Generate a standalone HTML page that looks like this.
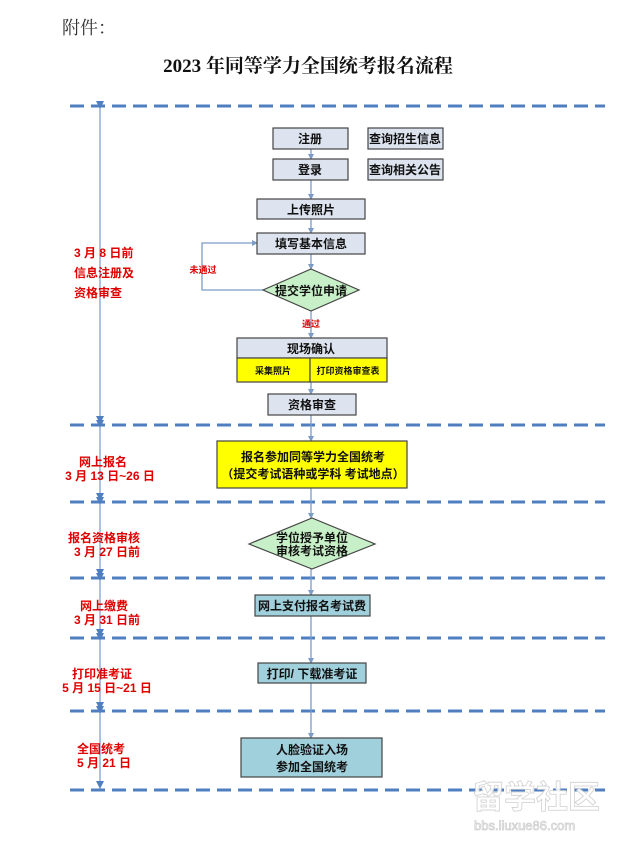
<!DOCTYPE html>
<html><head><meta charset="utf-8"><style>
html,body{margin:0;padding:0;background:#fff;}
svg{display:block;}
.b{font-family:"Liberation Sans","Noto Sans CJK SC",sans-serif;font-weight:bold;}
.r{fill:#e00000;}
</style></head><body>
<svg width="638" height="847" viewBox="0 0 638 847" xmlns="http://www.w3.org/2000/svg">
<defs>
<marker id="a" markerWidth="8" markerHeight="8" refX="7" refY="4" orient="auto" markerUnits="userSpaceOnUse"><path d="M0,0 L8,4 L0,8 z" fill="#4f7fc0"/></marker>
<marker id="s" markerWidth="6" markerHeight="6" refX="5" refY="3" orient="auto" markerUnits="userSpaceOnUse"><path d="M0,0 L6,3 L0,6 z" fill="#7a9cc8"/></marker>
</defs>
<text x="62" y="34" font-family="Liberation Serif,'Noto Serif CJK SC',serif" font-size="18" fill="#333">附件：</text>
<text x="308" y="72" text-anchor="middle" font-family="Liberation Serif,'Noto Serif CJK SC',serif" font-weight="bold" font-size="19" fill="#111">2023 年同等学力全国统考报名流程</text>
<g stroke="#4f7fc0" stroke-width="3" stroke-dasharray="14,7">
<line x1="70" y1="106" x2="605" y2="106"/><line x1="70" y1="425" x2="605" y2="425"/>
<line x1="70" y1="502" x2="605" y2="502"/><line x1="70" y1="578" x2="605" y2="578"/>
<line x1="70" y1="638" x2="605" y2="638"/><line x1="70" y1="711" x2="605" y2="711"/>
<line x1="70" y1="790" x2="605" y2="790"/>
</g>
<g stroke="#6a8fc8" stroke-width="1.1" marker-start="url(#a)" marker-end="url(#a)">
<line x1="100" y1="108" x2="100" y2="423"/><line x1="100" y1="427" x2="100" y2="500"/>
<line x1="100" y1="504" x2="100" y2="576"/><line x1="100" y1="580" x2="100" y2="636"/>
<line x1="100" y1="640" x2="100" y2="709"/><line x1="100" y1="713" x2="100" y2="788"/>
</g>
<g class="b r" font-size="12">
<text x="74" y="257">3 月 8 日前</text><text x="74" y="277">信息注册及</text><text x="74" y="297">资格审查</text>
<g text-anchor="middle">
<text x="103" y="466">网上报名</text><text x="110" y="480">3 月 13 日~26 日</text>
<text x="104" y="542">报名资格审核</text><text x="107" y="556">3 月 27 日前</text>
<text x="104" y="610">网上缴费</text><text x="107" y="624">3 月 31 日前</text>
<text x="102" y="678">打印准考证</text><text x="107" y="692">5 月 15 日~21 日</text>
<text x="101" y="753">全国统考</text><text x="104" y="767">5 月 21 日</text>
</g></g>
<g stroke="#7a9cc8" stroke-width="1.3" fill="none">
<line x1="311" y1="149" x2="311" y2="159" marker-end="url(#s)"/>
<line x1="311" y1="180" x2="311" y2="199" marker-end="url(#s)"/>
<line x1="311" y1="219" x2="311" y2="233" marker-end="url(#s)"/>
<line x1="311" y1="254" x2="311" y2="269" marker-end="url(#s)"/>
<polyline points="263,290 202,290 202,243 257,243" marker-end="url(#s)"/>
<line x1="311" y1="311" x2="311" y2="338" marker-end="url(#s)"/>
<line x1="311" y1="382" x2="311" y2="394" marker-end="url(#s)"/>
<line x1="311" y1="415" x2="311" y2="441" marker-end="url(#s)"/>
<line x1="311" y1="488" x2="311" y2="518" marker-end="url(#s)"/>
<line x1="311" y1="569" x2="311" y2="595" marker-end="url(#s)"/>
<line x1="311" y1="616" x2="311" y2="663" marker-end="url(#s)"/>
<line x1="311" y1="683" x2="311" y2="738" marker-end="url(#s)"/>
</g>
<g stroke="#444" stroke-width="1.2">
<rect x="273" y="128" width="75" height="21" fill="#dde4ef"/>
<rect x="273" y="159" width="75" height="21" fill="#dde4ef"/>
<rect x="368" y="128" width="75" height="21" fill="#dde4ef"/>
<rect x="368" y="159" width="75" height="21" fill="#dde4ef"/>
<rect x="257" y="199" width="108" height="20" fill="#dde4ef"/>
<rect x="257" y="233" width="108" height="21" fill="#dde4ef"/>
<polygon points="263,290 311,269 359,290 311,311" fill="#c8f0c8"/>
<rect x="237" y="338" width="150" height="20" fill="#dde4ef"/>
<rect x="237" y="358" width="73" height="24" fill="#ffff00"/>
<rect x="310" y="358" width="77" height="24" fill="#ffff00"/>
<rect x="268" y="394" width="88" height="21" fill="#dde4ef"/>
<rect x="217" y="441" width="190" height="47" fill="#ffff00"/>
<polygon points="249,544 312,518 375,544 312,569" fill="#c8f0c8"/>
<rect x="255" y="595" width="115" height="21" fill="#9fd0dc"/>
<rect x="258" y="663" width="108" height="20" fill="#9fd0dc"/>
<rect x="241" y="738" width="141" height="39" fill="#9fd0dc"/>
</g>
<g class="b" font-size="12" fill="#111" text-anchor="middle">
<text x="310" y="143">注册</text><text x="310" y="174">登录</text>
<text x="405" y="143">查询招生信息</text><text x="405" y="174">查询相关公告</text>
<text x="311" y="214">上传照片</text><text x="311" y="248">填写基本信息</text>
<text x="311" y="295">提交学位申请</text>
<text x="311" y="353">现场确认</text>
<text x="273" y="374" font-size="9">采集照片</text><text x="348" y="374" font-size="9">打印资格审查表</text>
<text x="312" y="409">资格审查</text>
<text x="313" y="461">报名参加同等学力全国统考</text>
<text x="313" y="478">（提交考试语种或学科  考试地点）</text>
<text x="312" y="542">学位授予单位</text><text x="312" y="555">审核考试资格</text>
<text x="312" y="610">网上支付报名考试费</text>
<text x="312" y="678">打印/ 下载准考证</text>
<text x="312" y="754">人脸验证入场</text><text x="312" y="771">参加全国统考</text>
</g>
<g class="b r" font-size="9" text-anchor="middle">
<text x="203" y="273">未通过</text><text x="311" y="327">通过</text>
</g>
<g font-family="Liberation Sans,'Noto Sans CJK SC',sans-serif" fill="#fff" stroke="#ccc" stroke-width="0.8" opacity="0.9">
<text x="472" y="808" font-size="32" font-weight="bold">留学社区</text>
<text x="474" y="830" font-size="13">bbs.liuxue86.com</text>
</g>
</svg>
</body></html>
